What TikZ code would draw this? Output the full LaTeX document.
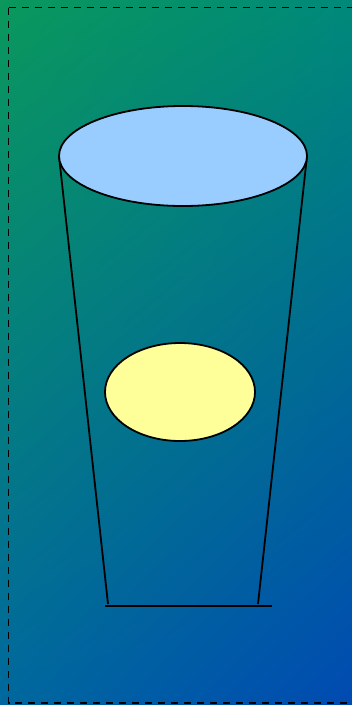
\documentclass[tikz,border=0pt]{standalone}
\usetikzlibrary{shadings,shapes.geometric}
\begin{document}
\begin{tikzpicture}[x=1pt,y=-1pt,
  outline/.style={draw=black,line width=1.8pt},
  frame/.style={draw=black,line width=1.8pt,dash pattern=on 7pt off 6pt}]
\definecolor{bgtl}{RGB}{10,152,92}
\definecolor{bgbr}{RGB}{0,74,178}
\definecolor{bgtr}{RGB}{0,137,122}
\definecolor{bgbl}{RGB}{0,104,158}
\definecolor{topfill}{RGB}{153,204,255}
\definecolor{yel}{RGB}{255,255,153}
\useasboundingbox (0,0) rectangle (352,705);
\shade[upper left=bgtl,lower right=bgbr,upper right=bgtr,lower left=bgbl] (0,0) rectangle (352,705);
\draw[frame] (8.5,7.5) -- (360,7.5) (8.5,7.5) -- (8.5,703) -- (360,703);
\coordinate (tl) at (59,156);
\coordinate (tr) at (307,156);
\coordinate (bl) at (108,604);
\coordinate (br) at (258,604);
\coordinate (b1) at (105,606);
\coordinate (b2) at (272,606);
\draw[outline] (tl) -- (bl);
\draw[outline] (tr) -- (br);
\draw[outline] (b1) -- (b2);
\node[outline,fill=topfill,ellipse,minimum width=248pt,minimum height=100pt,inner sep=0pt] (top) at (183,156) {};
\node[outline,fill=yel,ellipse,minimum width=150pt,minimum height=98pt,inner sep=0pt] (mid) at (180,392) {};
\end{tikzpicture}
\end{document}
